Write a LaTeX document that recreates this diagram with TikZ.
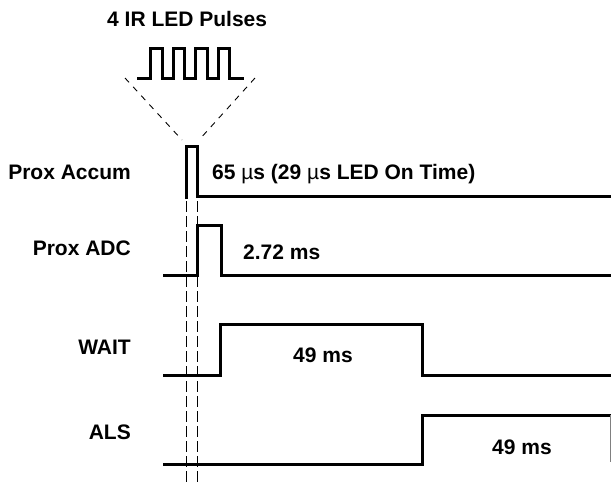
\documentclass[tikz,border=0pt]{standalone}
\usepackage{fontspec}
\setmainfont{Liberation Sans}
\begin{document}
\begin{tikzpicture}[x=1pt,y=-1pt,
  sig/.style={line width=3pt, line join=miter, line cap=butt},
  guide/.style={line width=0.9pt, dash pattern=on 11pt off 4pt},
  diag/.style={line width=0.9pt, dash pattern=on 6pt off 6pt},
  lbl/.style={font=\fontsize{21}{25}\selectfont\bfseries, inner sep=0pt}]
\useasboundingbox (0,0) rectangle (611,485);
% guide lines
\draw[guide] (186,201) -- (186,485);
\draw[guide] (197,201) -- (197,485);
% pulse train
\draw[sig] (137,78) -- (150,78) -- (150,48) -- (162,48) -- (162,78) -- (173,78) -- (173,48) -- (184,48) -- (184,78)
  -- (195,78) -- (195,48) -- (207,48) -- (207,78) -- (218,78) -- (218,48) -- (229,48) -- (229,78) -- (244,78);
\draw[diag] (125,78) -- (182,140);
\draw[diag] (255,78) -- (199,140);
% signals
\draw[sig] (186,199) -- (186,146) -- (197,146) -- (197,196) -- (611,196);
\draw[sig] (163,275) -- (197,275) -- (197,225) -- (221,225) -- (221,275) -- (611,275);
\draw[sig] (163,375) -- (220,375) -- (220,324) -- (422,324) -- (422,375) -- (611,375);
\draw[sig] (163,464) -- (422,464) -- (422,415) -- (611,415);
\draw[line width=0.8pt, gray] (610,415) -- (610,462);
% labels
\node[lbl, anchor=base west] (title) at (107,26) {4 IR LED Pulses};
\node[lbl, anchor=base east] (l1) at (131,179) {Prox Accum};
\node[lbl, anchor=base east] (l2) at (131,255) {Prox ADC};
\node[lbl, anchor=base east] (l3) at (131,354) {WAIT};
\node[lbl, anchor=base east] (l4) at (131,439) {ALS};
\node[lbl, anchor=base west] (t1) at (212,179) {65 {\mdseries µ}s (29 {\mdseries µ}s LED On Time)};
\node[lbl, anchor=base west] (t2) at (243,259) {2.72 ms};
\node[lbl, anchor=base west] (t3) at (293,362) {49 ms};
\node[lbl, anchor=base west] (t4) at (492,454) {49 ms};
\end{tikzpicture}
\end{document}
